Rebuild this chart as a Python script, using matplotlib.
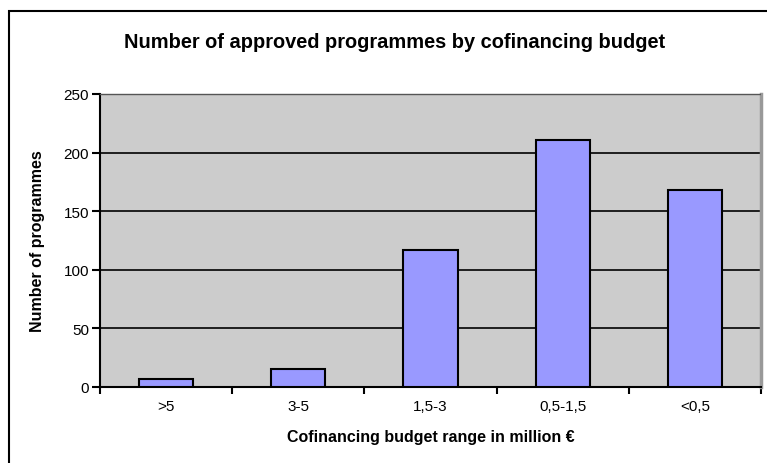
import matplotlib
matplotlib.use("Agg")
import matplotlib.pyplot as plt
from matplotlib.patches import Rectangle
import numpy as np

plt.rcParams['font.family'] = ['Liberation Sans', 'DejaVu Sans']

# ---------- datos ----------
categorias = ['>5', '3-5', '1,5-3', '0,5-1,5', '<0,5']
programas = [7, 15, 117, 211, 168]
yticks = [0, 50, 100, 150, 200, 250]

fig = plt.figure(figsize=(7.67, 4.64), dpi=100)
ax = fig.add_axes([0.1304, 0.1638, 0.8618, 0.6315])

# marco exterior
fig.patches.append(Rectangle((9 / 767, -0.1), 1.2, 1 - 12 / 464 + 0.1,
                             transform=fig.transFigure, fill=False,
                             edgecolor='black', lw=1.5, zorder=0))

ax.set_facecolor('#cccccc')
x = np.arange(len(categorias))
ax.bar(x, programas, width=0.41, color='#9999ff', edgecolor='black', lw=1.5, zorder=3)

ax.set_xlim(-0.5, len(categorias) - 0.5)
ax.set_ylim(0, 250)
ax.set_yticks(yticks)
ax.set_yticklabels([str(v) for v in yticks], fontsize=11)
for v in yticks[1:-1]:
    ax.axhline(v, color='black', lw=1.2, zorder=1)

# ticks del eje x en los limites de categoria
ax.set_xticks(np.arange(-0.5, len(categorias), 1.0))
ax.set_xticklabels([])
ax.set_xticks(x, minor=True)
ax.set_xticklabels(categorias, minor=True, fontsize=11)
ax.tick_params(axis='x', which='minor', length=0, pad=9)
ax.tick_params(axis='x', which='major', length=5, width=1.5, direction='out')
ax.tick_params(axis='y', length=6, width=1.5, direction='out', pad=2)

for s in ['left', 'bottom']:
    ax.spines[s].set_linewidth(1.5)
    ax.spines[s].set_color('black')
ax.spines['top'].set_color('#555555')
ax.spines['top'].set_linestyle((0, (3, 1)))
ax.spines['top'].set_linewidth(1)
ax.spines['right'].set_color('#999999')
ax.spines['right'].set_linewidth(2.5)

ax.set_ylabel('Number of programmes', fontsize=11.5, fontweight='bold')
ax.yaxis.set_label_coords(-0.083, 0.5)
ax.set_xlabel('Cofinancing budget range in million €', fontsize=11.5, fontweight='bold')
ax.xaxis.set_label_coords(0.5, -0.142)
fig.text(395 / 767, 1 - 42 / 464, 'Number of approved programmes by cofinancing budget',
         ha='center', va='center', fontsize=14.4, fontweight='bold')

fig.savefig('out.png', dpi=100)
